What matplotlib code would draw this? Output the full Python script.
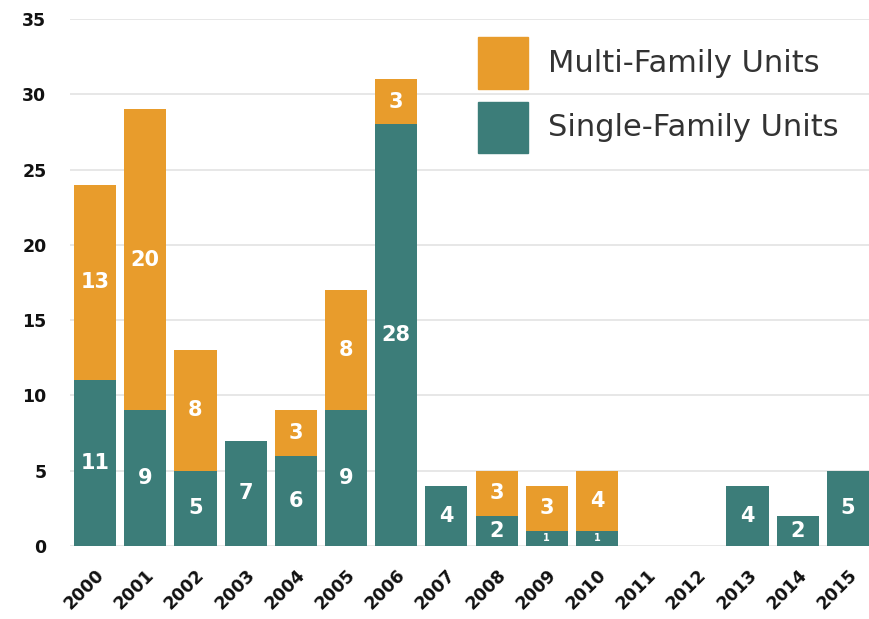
import matplotlib
matplotlib.use("Agg")
import matplotlib.pyplot as plt
from matplotlib.patches import Rectangle
from matplotlib.transforms import ScaledTranslation
import numpy as np

years = ["2000", "2001", "2002", "2003", "2004", "2005", "2006", "2007",
         "2008", "2009", "2010", "2011", "2012", "2013", "2014", "2015"]
single_family = [11, 9, 5, 7, 6, 9, 28, 4, 2, 1, 1, 0, 0, 4, 2, 5]
multi_family = [13, 20, 8, 0, 3, 8, 3, 0, 3, 3, 4, 0, 0, 0, 0, 0]
series_names = ["Multi-Family Units", "Single-Family Units"]
y_ticks = [0, 5, 10, 15, 20, 25, 30, 35]

ORANGE = "#E89C2C"
TEAL = "#3C7D79"

fig = plt.figure(figsize=(8.69, 6.19), dpi=100)
ax = fig.add_axes([70 / 869, 73 / 619, 1 - 70 / 869, (546 - 19) / 619])

x = np.arange(len(years))
w = 0.84
sf = np.array(single_family)
mf = np.array(multi_family)
ax.bar(x, sf, width=w, color=TEAL, zorder=2)
ax.bar(x, mf, width=w, bottom=sf, color=ORANGE, zorder=2)

for i in range(len(years)):
    if sf[i] > 0:
        fs = 15 if sf[i] > 1 else 7
        ax.text(x[i], sf[i] / 2, str(sf[i]), ha="center", va="center",
                color="white", fontsize=fs, fontweight="bold", zorder=3)
    if mf[i] > 0:
        ax.text(x[i], sf[i] + mf[i] / 2, str(mf[i]), ha="center", va="center",
                color="white", fontsize=15, fontweight="bold", zorder=3)

ax.set_xlim(-0.5, 15.42)
ax.set_ylim(0, 35)
ax.set_yticks(y_ticks)
ax.set_yticklabels([str(t) for t in y_ticks], fontsize=12.5, fontweight="bold",
                   color="#111111")
ax.set_xticks(x)
ax.set_xticklabels(years, rotation=45, ha="right", rotation_mode="anchor",
                   fontsize=12.5, fontweight="bold", color="#111111")
offset = ScaledTranslation(6 / 100, 0, fig.dpi_scale_trans)
for lbl in ax.get_xticklabels():
    lbl.set_transform(lbl.get_transform() + offset)
ax.tick_params(axis="both", length=0)
ax.tick_params(axis="y", pad=17)
ax.tick_params(axis="x", pad=14)
ax.yaxis.grid(True, color="#e3e3e3", linewidth=1.2, zorder=0)
ax.set_axisbelow(True)
for s in ax.spines.values():
    s.set_visible(False)

# Legend drawn in figure pixel coordinates
def fig_rect(x0, y0, w_, h_, color):
    fig.add_artist(Rectangle((x0 / 869, 1 - (y0 + h_) / 619), w_ / 869, h_ / 619,
                             transform=fig.transFigure, color=color, zorder=5))

fig_rect(478, 37, 50, 52, ORANGE)
fig_rect(478, 102, 50, 51, TEAL)
fig.text(548 / 869, 1 - 63 / 619, series_names[0], fontsize=22, color="#333333",
         va="center", ha="left")
fig.text(548 / 869, 1 - 128 / 619, series_names[1], fontsize=22, color="#333333",
         va="center", ha="left")

fig.savefig("out.png", dpi=100)
